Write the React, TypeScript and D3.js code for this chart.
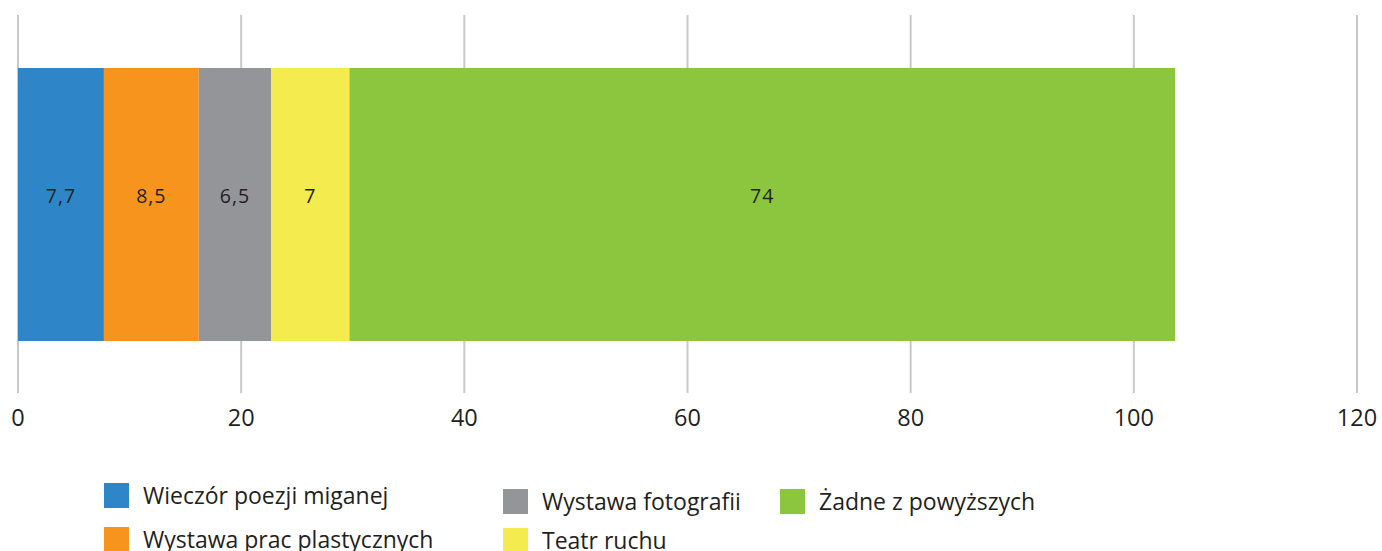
import React from "react";
import * as d3 from "d3";

const categories = ["Wieczór poezji miganej", "Wystawa prac plastycznych", "Wystawa fotografii", "Teatr ruchu", "Żadne z powyższych"];
const values = [7.7, 8.5, 6.5, 7, 74];
const labels = ["7,7", "8,5", "6,5", "7", "74"];
const colors = ["#2e86c8", "#f7941e", "#939598", "#f4ec4f", "#8cc63f"];
const ticks = [0, 20, 40, 60, 80, 100, 120];

const legendPos = [
  { x: 104, y: 483 },
  { x: 104, y: 527 },
  { x: 503, y: 489 },
  { x: 503, y: 528 },
  { x: 780, y: 489 },
];

export default function App() {
  const W = 1382, H = 551;
  const x = d3.scaleLinear().domain([0, 120]).range([18, 1357]);
  const y = d3.scaleBand().domain(["a"]).range([68, 341]).padding(0);
  const stack = d3.cumsum(values);
  const font = "'Open Sans', sans-serif";
  return (
    <svg width={W} height={H} style={{ position: "absolute", left: 0, top: 0 }}>
      {ticks.map((t) => (
        <g key={t}>
          <line x1={x(t)} x2={x(t)} y1={15} y2={393} stroke="#c8c8cc" strokeWidth={2} />
          <text x={x(t)} y={426} textAnchor="middle" fontFamily={font} fontSize={23.5} fill="#231f20">{t}</text>
        </g>
      ))}
      {values.map((v, i) => {
        const x0 = x(stack[i] - v);
        const x1 = x(stack[i]);
        const yy = y("a")!;
        return (
          <g key={i}>
            <rect x={x0} y={yy} width={x1 - x0} height={y.bandwidth()} fill={colors[i]} />
            <text x={(x0 + x1) / 2} y={203} textAnchor="middle" fontFamily={font} fontSize={19.5} letterSpacing={1} fill="#231f20">{labels[i]}</text>
          </g>
        );
      })}
      {categories.map((c, i) => (
        <g key={c} transform={`translate(${legendPos[i].x},${legendPos[i].y})`}>
          <rect x={0} y={0} width={25} height={25} fill={colors[i]} />
          <text x={39} y={21} fontFamily={font} fontSize={23} fill="#231f20">{c}</text>
        </g>
      ))}
    </svg>
  );
}
